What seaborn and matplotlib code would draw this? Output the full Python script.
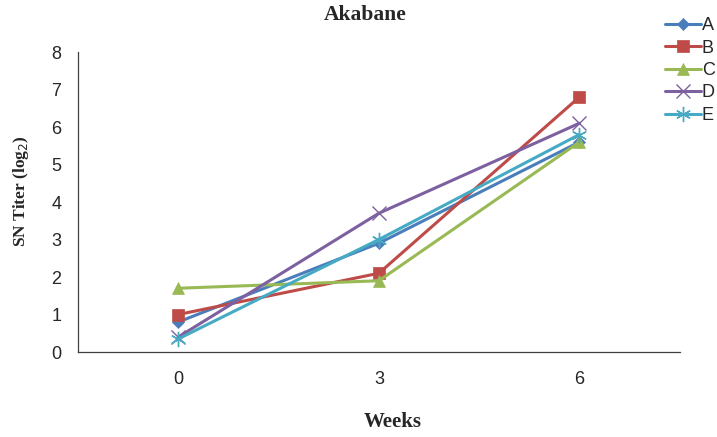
import pandas as pd
import matplotlib.pyplot as plt
import seaborn as sns

weeks = ['0', '3', '6']
groups = ['A', 'B', 'C', 'D', 'E']
titer_a = [0.8, 2.9, 5.6]
titer_b = [1.0, 2.1, 6.8]
titer_c = [1.7, 1.9, 5.6]
titer_d = [0.4, 3.7, 6.1]
titer_e = [0.35, 3.0, 5.8]

colors = ['#4A7EBB', '#BE4B48', '#98B954', '#7D60A0', '#46AAC5']
markers = ['D', 's', '^', 'x', (6, 2, 0)]
sizes = [6, 8, 9, 10, 11]

rows = []
for g, vals in zip(groups, [titer_a, titer_b, titer_c, titer_d, titer_e]):
    for w, v in zip(weeks, vals):
        rows.append({'Weeks': w, 'Titer': v, 'Group': g})
df = pd.DataFrame(rows)

sns.set_style('white')
plt.rcParams['font.family'] = ['Liberation Sans', 'DejaVu Sans']

fig = plt.figure(figsize=(7.17, 4.37), dpi=100)
ax = fig.add_axes([0.1088, 0.1945, 0.8392, 0.6865])

for g, c, m, s in zip(groups, colors, markers, sizes):
    sub = df[df['Group'] == g]
    sns.lineplot(data=sub, x='Weeks', y='Titer', color=c, marker=m, markersize=s,
                 markeredgecolor=c, markeredgewidth=1.0 if m in ('x', (6, 2, 0)) else 0.5,
                 linewidth=2.2, ax=ax, label=g, sort=False)

ax.set_xlim(-0.5, 2.5)
ax.set_ylim(0, 8)
ax.set_yticks(range(0, 9))
ax.set_xticks([0, 1, 2])
ax.set_xticklabels(weeks)
ax.set_xticks([-0.5, 0.5, 1.5, 2.5], minor=True)
ax.tick_params(axis='x', which='major', length=0, pad=14, labelsize=13)
ax.tick_params(axis='x', which='minor', length=4, direction='in', color='#404040', width=0.8)
ax.tick_params(axis='y', length=4, direction='in', color='#404040', width=0.8, labelsize=13, pad=12)

for side in ['top', 'right']:
    ax.spines[side].set_visible(False)
for side in ['left', 'bottom']:
    ax.spines[side].set_color('#404040')
    ax.spines[side].set_linewidth(0.9)

serif = ['Liberation Serif', 'DejaVu Serif']
ax.set_title('Akabane', fontfamily=serif, fontweight='bold', fontsize=15.5,
             x=0.477, y=1.123, va='center', pad=0)
ax.set_xlabel('Weeks', fontfamily=serif, fontweight='bold', fontsize=15, va='center')
ax.xaxis.set_label_coords(0.523, -0.233)
ax.set_ylabel('SN Titer (log$_2$)', fontfamily=serif, fontweight='bold', fontsize=12.5, va='center')
ax.yaxis.set_label_coords(-0.095, 0.537)

ax.legend(loc='upper left', bbox_to_anchor=(0.963, 1.14), frameon=False, fontsize=13,
          handlelength=2.0, handletextpad=0.05, labelspacing=0.3, borderaxespad=0)

plt.savefig('out.png', dpi=100)
